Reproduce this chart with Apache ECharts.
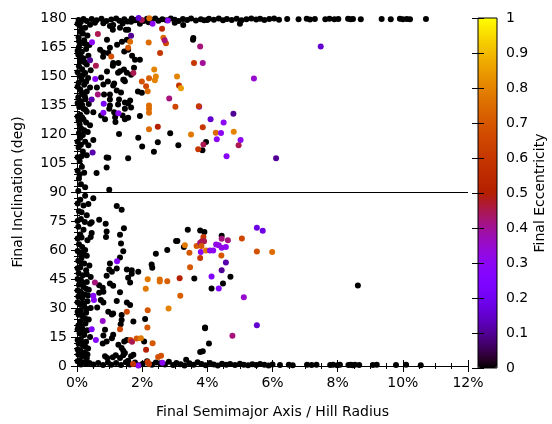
<!DOCTYPE html>
<html>
<head>
<meta charset="utf-8">
<script src="https://cdn.jsdelivr.net/npm/echarts@6/dist/echarts.min.js"></script>
<style>
  html, body { margin: 0; padding: 0; background: #fff; }
  #chart { width: 552px; height: 424px; }
</style>
</head>
<body>
<div id="chart"></div>
<script>
// x = final semimajor axis (% of Hill radius), y = final inclination (deg), e = final eccentricity

// black points hugging the left edge (a < 0.5%)
var leftEdge = [
  [0.05,179],[0.12,178],[0.2,179.5],[0.3,178.5],[0.08,176],[0.25,175],[0.4,176.5],[0.1,173],[0.18,172],[0.32,171],
  [0.05,170],[0.22,168.5],[0.12,167],[0.38,166],[0.06,165],[0.28,164],[0.15,162.5],[0.04,161],[0.35,160.5],[0.2,159],
  [0.1,157.5],[0.3,156],[0.06,155],[0.16,153.5],[0.42,153],[0.25,151.5],[0.08,150],[0.34,149],[0.14,148],[0.05,146.5],
  [0.22,145.5],[0.4,144],[0.1,143],[0.3,142],[0.18,140.5],[0.04,139],[0.26,138],[0.12,137],[0.36,135.5],[0.07,134],
  [0.2,133],[0.3,131.5],[0.1,130],[0.16,128.5],[0.05,127],[0.28,126],[0.4,124.5],[0.12,123],[0.22,122],[0.06,120.5],
  [0.33,121],[0.1,118],[0.25,116],[0.05,113],[0.18,111],[0.3,109],[0.08,106],[0.15,103],[0.22,100],[0.06,97],
  [0.12,94],[0.04,90.5],[0.1,86],[0.2,83],[0.06,80],[0.3,78],[0.12,76],[0.04,72],[0.2,70.5],[0.1,68],
  [0.32,65],[0.06,63],[0.16,61.5],[0.25,60],[0.08,58.5],[0.3,57],[0.14,56],[0.04,54.5],[0.22,53],[0.38,52],
  [0.1,51],[0.28,49.5],[0.05,48],[0.18,47],[0.42,46],[0.12,44.5],[0.3,43.5],[0.06,42],[0.2,41],[0.36,39.5],
  [0.1,38.5],[0.25,37],[0.04,36],[0.16,35],[0.32,33.5],[0.08,32],[0.22,31],[0.42,30],[0.12,29],[0.28,27.5],
  [0.05,26.5],[0.18,25.5],[0.36,24],[0.1,23],[0.26,22],[0.04,21],[0.16,19.5],[0.32,18.5],[0.08,17],[0.22,16],
  [0.4,15],[0.12,14],[0.28,12.5],[0.05,11.5],[0.18,10.5],[0.34,9],[0.1,8],[0.24,7],[0.04,6],[0.16,5],
  [0.3,4],[0.08,3],[0.2,2],[0.38,1.5],[0.12,0.8],[0.35,114.2],[0.25,92.4],[0.25,88.1],[0.35,83.8],[0.45,74.4],
  [0.4,73.6],[0.45,68.8],[0.42,66.7],[0.5,86.8],[0.5,116.9],[0.5,131.3],
  [0.02,177],[0.15,174.5],[0.06,168],[0.26,166.5],[0.02,163],[0.12,160],[0.24,157],[0.02,152],[0.18,150.5],[0.28,147],
  [0.02,144.5],[0.14,141.5],[0.24,139.5],[0.02,136],[0.16,135],[0.26,132.5],[0.02,129],[0.2,127.5],[0.08,125],[0.18,119.5],
  [0.02,116],[0.12,114.5],[0.02,108],[0.14,108.5],[0.02,101],[0.08,99],[0.02,84],[0.14,79.5],[0.02,75],[0.24,74.5],
  [0.02,66],[0.14,66.5],[0.02,59.5],[0.2,58],[0.12,53.5],[0.02,50.5],[0.3,47.5],[0.02,45],[0.16,43],[0.28,40],
  [0.02,39],[0.14,37.5],[0.34,36.5],[0.02,33],[0.18,32.5],[0.3,29.5],[0.02,28],[0.14,26.5],[0.26,24.5],[0.02,19],
  [0.12,20.5],[0.24,18],[0.02,13.5],[0.14,12],[0.26,10],[0.02,8.5],[0.2,6.5],[0.32,6],[0.02,2.5],[0.28,1.2]
];

// black points along the top (near 180 deg)
var topRow = [
  [0.45,179.5],[0.6,178.8],[0.75,179.6],[0.9,178.5],[1.05,179.2],[1.2,179.8],[1.3,178.6],[1.45,179.4],[1.55,178.2],[1.68,179.7],
  [1.78,178.9],[1.9,179.3],[2.05,178.4],[2.15,179.6],[2.28,179.0],[2.4,179.8],[2.5,178.6],[2.62,179.4],[2.75,178.9],[2.88,179.7],
  [3.0,179.1],[3.12,178.5],[3.25,179.5],[3.38,179.0],[3.5,179.8],[3.65,178.7],[3.8,179.4],[3.9,178.8],[4.05,179.6],[4.2,179.1],
  [4.35,179.7],[4.48,178.9],[4.6,179.5],[4.75,179.0],[4.9,179.6],[5.05,178.8],[5.2,179.4],[5.35,179.8],[5.5,179.2],[5.62,179.6],
  [5.75,179.0],[5.9,179.5],[6.05,179.7],[6.2,179.1],[6.45,179.5],[6.8,179.4],[7.05,179.6],[7.15,179.2],[7.3,179.5],[7.62,179.4],
  [7.75,179.6],[7.9,179.3],[8.02,179.5],[8.32,179.6],[8.4,179.3],[8.47,179.5],[8.71,179.4],[9.35,179.5],[9.63,179.4],[9.91,179.6],
  [10.0,179.3],[10.12,179.5],[10.22,179.4],[10.71,179.5],[5.0,177.0],[3.0,177.5],[1.4,177.2],[2.2,177.8],[0.55,177.6],[0.81,177.3],
  [1.01,175.9],[1.11,176.4],[1.42,178.1],[3.26,176.4],[4.0,179.0]
];

// black points along the bottom (near 0 deg)
var bottomRow = [
  [0.5,0.8],[0.65,1.5],[0.8,0.5],[0.95,1.8],[1.05,0.6],[1.2,1.5],[1.35,0.5],[1.5,2.0],[1.62,0.8],[1.78,1.8],
  [1.9,0.4],[2.02,1.2],[2.3,0.6],[2.42,1.8],[2.7,0.8],[2.82,2.2],[2.95,0.5],[3.05,1.6],[3.18,0.9],[3.3,0.3],
  [3.45,1.4],[3.58,0.7],[3.7,2.0],[3.82,1.0],[3.95,0.4],[4.08,1.5],[4.2,0.8],[4.32,0.3],[4.45,1.2],[4.58,0.6],
  [4.7,1.0],[4.85,0.5],[5.0,1.1],[5.12,0.7],[5.25,0.4],[5.38,0.9],[5.5,0.5],[5.62,1.0],[5.75,0.6],[5.88,0.3],
  [6.0,0.8],[6.23,0.5],[6.5,0.7],[6.62,0.4],[7.06,0.6],[7.2,0.5],[7.35,0.7],[7.77,0.5],[7.86,0.6],[7.99,0.4],
  [8.07,0.6],[8.33,0.5],[8.4,0.6],[8.46,0.4],[8.53,0.6],[8.66,0.5],[9.08,0.5],[9.2,0.6],[9.79,0.5],[10.1,0.6],
  [10.55,0.4],[2.15,2.5],[2.55,1.4],[1.57,2.7],[3.35,3.2]
];

// other black points
var scatterBlack = [
  [0.71,163.6],[0.92,168.7],[1.10,173.9],[1.32,174.9],[1.50,173.9],[1.66,178.0],[1.81,179.0],[1.93,177.0],[0.80,160.0],[1.01,164.6],
  [1.23,166.2],[1.38,167.7],[1.53,168.7],[1.57,173.9],[0.92,152.3],[1.10,155.3],[1.26,151.7],[1.44,153.3],[1.53,151.7],[1.66,150.7],
  [1.75,154.3],[0.74,149.2],[0.95,147.1],[1.14,146.1],[1.35,141.5],[1.44,148.1],[0.61,144.0],[0.83,140.4],[1.01,137.9],[1.29,137.9],
  [1.47,136.3],[1.63,137.3],[1.66,133.7],[1.14,131.2],[1.26,135.3],[1.87,142.0],[1.69,160.5],[3.56,168.7],[0.86,127.6],[1.17,128.6],
  [1.47,127.6],[1.29,120.0],[1.88,118.0],[2.00,113.5],[2.36,110.8],[2.48,115.7],[2.86,120.4],[3.11,114.2],[3.96,115.9],[3.85,111.6],
  [1.57,107.4],[0.91,107.9],[0.96,107.7],[0.91,102.7],[0.60,99.8],[0.99,91.2],[1.01,134.8],[0.99,133.1],[0.74,129.6],[1.57,135.8],
  [1.47,133.1],[1.40,129.6],[1.57,128.4],[1.18,126.2],[1.93,129.3],[0.96,161.9],[0.81,162.2],[1.45,162.7],[1.57,163.6],[1.78,158.4],
  [1.93,158.4],[1.27,156.7],[1.11,156.7],[1.32,152.4],[1.42,148.1],[1.47,147.3],[1.99,141.3],[1.01,140.4],[1.11,145.1],[1.22,142.5],
  [0.81,145.6],[3.57,169.6],
  [1.22,82.7],[1.37,80.8],[0.68,75.6],[0.88,73.6],[0.91,69.6],[0.89,66.7],[1.44,71.3],[1.32,67.9],[1.42,59.3],[1.35,63.3],
  [1.32,56.1],[3.40,70.5],[3.78,70.1],[3.91,69.3],[3.04,64.7],[3.08,64.7],[3.28,61.6],[2.77,60.0],[2.42,58.0],[2.29,52.5],
  [2.31,50.8],[1.88,48.7],[1.68,49.5],[1.53,49.9],[1.57,45.6],[1.68,47.7],[1.01,53.0],[1.22,50.4],[0.99,49.9],[1.07,48.7],
  [0.91,46.7],[0.68,41.8],[0.79,40.5],[1.01,42.7],[1.11,41.5],[1.63,43.2],[1.32,38.1],[1.22,33.6],[1.53,32.8],[1.63,31.5],
  [0.96,28.1],[1.07,26.7],[1.11,27.1],[1.37,26.4],[1.73,23.0],[1.37,23.8],[1.34,21.6],[0.73,34.1],[0.81,32.9],[0.68,37.9],
  [0.81,38.4],[0.62,30.2],[0.86,18.7],[0.81,15.8],[1.07,14.4],[1.11,16.1],[0.91,12.7],[0.79,11.7],[1.27,11.0],[1.37,9.3],
  [1.45,12.7],[1.53,13.5],[1.42,7.9],[1.47,6.7],[0.86,5.0],[0.93,4.1],[1.10,4.5],[1.19,5.5],[1.32,4.1],[1.42,5.5],
  [1.66,5.0],[1.73,5.8],[2.09,24.3],[3.93,19.5],[3.60,45.3],[2.06,12.7],[4.44,67.4],[4.71,46.1],[4.48,42.7],[4.13,40.1],
  [3.93,19.9],[4.05,11.7],[3.86,7.6],[3.78,7.2],[8.62,41.7]
];

// points with visible eccentricity: [a, inclination, e]
var colored = [
  [0.64,171.7,0.45],[0.46,167.5,0.3],[1.63,167.7,0.75],[1.57,164.6,0.7],[1.05,160.1,0.68],[0.40,158.1,0.1],[0.58,155.3,0.45],
  [1.73,151.6,0.45],[0.56,148.5,0.28],[0.45,137.9,0.12],[0.64,140.4,0.42],[0.82,135.6,0.22],[2.61,174.4,0.55],[2.32,177.0,0.3],
  [2.65,169.8,0.75],[2.73,167.0,0.65],[2.69,168.5,0.42],[2.20,167.3,0.75],[2.55,161.9,0.6],[2.37,153.3,0.8],[2.42,149.7,0.8],
  [2.39,147.8,0.8],[2.21,148.8,0.72],[1.99,147.1,0.68],[2.12,144.7,0.65],[2.17,142.1,0.75],[3.07,149.8,0.8],[3.13,145.1,0.6],
  [3.19,143.7,0.85],[3.59,156.7,0.6],[3.86,156.7,0.4],[3.78,165.3,0.42],[2.83,138.4,0.42],[3.02,134.1,0.65],[3.75,134.1,0.3],
  [3.74,134.4,0.6],[2.21,134.8,0.75],[2.21,133.1,0.75],[2.21,131.0,0.75],[2.21,122.4,0.75],[2.48,123.8,0.5],[3.50,119.7,0.78],
  [3.86,123.5,0.6],[3.88,114.6,0.45],[3.72,112.1,0.6],[0.81,131.0,0.28],[1.27,130.7,0.3],[0.48,110.4,0.12],[5.43,148.7,0.35],
  [7.48,165.3,0.15],[4.10,127.6,0.15],[4.80,130.5,0.1],[4.50,125.9,0.3],[4.26,120.7,0.75],[4.42,120.5,0.3],[4.81,121.2,0.8],
  [4.29,117.3,0.3],[5.02,116.9,0.3],[4.96,114.2,0.45],[4.59,108.5,0.28],[6.11,107.5,0.1],[1.99,179.0,0.45],[2.22,179.9,0.75],
  [2.79,178.7,0.3],[1.89,180.0,0.15],[1.66,170.8,0.1],
  [1.23,54.2,0.28],[0.55,43.2,0.42],[3.31,62.4,0.78],[3.45,58.6,0.7],[3.67,62.1,0.7],[3.78,63.8,0.42],[3.84,64.7,0.45],
  [3.88,66.7,0.6],[3.80,59.0,0.3],[3.78,55.9,0.6],[3.96,59.7,0.78],[3.47,51.1,0.7],[2.17,44.9,0.78],[2.54,44.8,0.75],
  [2.54,43.7,0.75],[2.77,43.9,0.72],[3.15,45.4,0.5],[5.52,71.5,0.18],[5.70,70.0,0.18],[5.06,66.0,0.65],[4.44,65.8,0.42],
  [4.63,65.0,0.42],[3.90,64.5,0.45],[3.82,62.1,0.7],[4.08,59.7,0.3],[4.18,59.8,0.3],[4.27,62.8,0.32],[4.35,62.4,0.32],
  [4.44,61.2,0.32],[4.57,61.6,0.3],[4.43,57.1,0.7],[5.52,59.2,0.68],[5.99,59.0,0.75],[4.57,53.5,0.12],[4.44,49.5,0.1],
  [4.13,46.3,0.25],[4.35,40.1,0.25],[5.12,35.6,0.35],[5.52,21.1,0.15],[4.77,15.6,0.42],[0.50,36.4,0.28],[0.52,34.1,0.28],
  [0.79,23.3,0.35],[0.45,19.0,0.25],[0.58,13.5,0.28],[1.53,28.1,0.65],[1.32,19.0,0.65],[1.64,13.5,0.65],[1.69,12.6,0.45],
  [2.11,40.0,0.78],[2.17,28.8,0.7],[2.81,29.8,0.8],[3.17,36.4,0.72],[2.16,19.9,0.7],[1.83,14.2,0.7],[1.96,14.4,0.78],
  [2.32,11.8,0.7],[2.12,8.4,0.5],[2.49,4.6,0.68],[2.58,5.3,0.68],[2.62,1.7,0.3],[2.17,2.1,0.6],[2.21,1.0,0.6],
  [1.88,0.2,0.3],[1.72,1.0,0.6]
];

var xTicks = [0, 12, 2];   // min, max, step (%)
var yTicks = [0, 180, 15]; // min, max, step (deg)
var eTicks = [0, 1, 0.1];

// gnuplot default palette (rgbformulae 7,5,15)
function pal(t) {
  var r = Math.sqrt(t), g = t * t * t, b = Math.max(0, Math.sin(2 * Math.PI * t));
  function h(v) { var s = Math.round(Math.min(1, v) * 255).toString(16); return s.length < 2 ? '0' + s : s; }
  return '#' + h(r) + h(g) + h(b);
}
var palColors = [];
for (var i = 0; i <= 40; i++) palColors.push(pal(i / 40));

var blackPts = leftEdge.concat(topRow, bottomRow, scatterBlack).map(function (p) { return [p[0], p[1], 0]; });
var allPts = blackPts.concat(colored);

var font = 'DejaVu Sans';
var txt = { color: '#000', fontFamily: font, fontSize: 14 };

var chart = echarts.init(document.getElementById('chart'));
var option = {
  animation: false,
  backgroundColor: '#fff',
  textStyle: { fontFamily: font },
  grid: [
    { left: 77, top: 18, width: 391, height: 350 },
    { left: 478, top: 18, width: 19, height: 350 }
  ],
  graphic: {
    elements: [{
      type: 'rect', z: 100, silent: true,
      shape: { x: 478, y: 18, width: 19, height: 350 },
      style: { fill: null, stroke: '#000', lineWidth: 1 }
    }]
  },
  visualMap: {
    type: 'continuous', show: true, min: 0, max: 1, dimension: 2, seriesIndex: 0,
    orient: 'vertical', left: 478, top: 18, padding: 0,
    itemWidth: 19, itemHeight: 350, calculable: false, hoverLink: false,
    text: null, showLabel: false,
    textStyle: { color: 'rgba(0,0,0,0)', fontSize: 1 },
    inRange: { color: palColors }
  },
  xAxis: [
    {
      gridIndex: 0, type: 'value', position: 'bottom', min: xTicks[0], max: xTicks[1], interval: xTicks[2],
      name: 'Final Semimajor Axis / Hill Radius', nameLocation: 'middle', nameGap: 39, nameTextStyle: txt,
      axisLine: { lineStyle: { color: '#000', width: 1 } },
      axisTick: { inside: true, length: 6, lineStyle: { color: '#000' } },
      minorTick: { show: true, splitNumber: 4, length: 3, lineStyle: { color: '#000' } },
      axisLabel: Object.assign({ margin: 10, formatter: '{value}%' }, txt),
      splitLine: { show: false }
    },
    {
      gridIndex: 0, type: 'value', position: 'top', min: xTicks[0], max: xTicks[1], interval: xTicks[2],
      axisLine: { lineStyle: { color: '#000', width: 1 } },
      axisTick: { inside: true, length: 6, lineStyle: { color: '#000' } },
      minorTick: { show: true, splitNumber: 4, length: 3, lineStyle: { color: '#000' } },
      axisLabel: { show: false }, splitLine: { show: false }
    },
    { gridIndex: 1, type: 'value', min: 0, max: 1, show: false }
  ],
  yAxis: [
    {
      gridIndex: 0, type: 'value', position: 'left', min: yTicks[0], max: yTicks[1], interval: yTicks[2],
      name: 'Final Inclination (deg)', nameLocation: 'middle', nameGap: 52, nameRotate: 90, nameTextStyle: txt,
      axisLine: { show: true, lineStyle: { color: '#000', width: 1 } },
      axisTick: { show: true, inside: true, length: 6, lineStyle: { color: '#000' } },
      minorTick: { show: true, splitNumber: 5, length: 3, lineStyle: { color: '#000' } },
      axisLabel: Object.assign({ margin: 10 }, txt),
      splitLine: { show: false }
    },
    {
      gridIndex: 0, type: 'value', position: 'right', min: yTicks[0], max: yTicks[1], interval: yTicks[2],
      axisLine: { show: true, lineStyle: { color: '#000', width: 1 } },
      axisTick: { show: true, inside: true, length: 6, lineStyle: { color: '#000' } },
      minorTick: { show: true, splitNumber: 5, length: 3, lineStyle: { color: '#000' } },
      axisLabel: { show: false }, splitLine: { show: false }
    },
    {
      gridIndex: 1, type: 'value', position: 'right', min: eTicks[0], max: eTicks[1], interval: eTicks[2],
      name: 'Final Eccentricity', nameLocation: 'middle', nameGap: 36, nameRotate: 90, nameTextStyle: txt,
      z: 10,
      axisLine: { show: false },
      axisTick: { show: true, inside: true, length: 6, lineStyle: { color: '#000' } },
      axisLabel: Object.assign({ margin: 9 }, txt),
      splitLine: { show: false }
    },
    {
      gridIndex: 1, type: 'value', position: 'left', min: eTicks[0], max: eTicks[1], interval: eTicks[2],
      z: 10,
      axisLine: { show: false },
      axisTick: { show: true, inside: true, length: 6, lineStyle: { color: '#000' } },
      axisLabel: { show: false }, splitLine: { show: false }
    }
  ],
  series: [{
    type: 'scatter',
    xAxisIndex: 0, yAxisIndex: 0,
    symbolSize: 6,
    itemStyle: { opacity: 1 },
    data: allPts,
    markLine: {
      silent: true, symbol: 'none', label: { show: false },
      lineStyle: { color: '#000', width: 1, type: 'solid' },
      data: [{ yAxis: 90 }]
    }
  }]
};
chart.setOption(option);
</script>
</body>
</html>
